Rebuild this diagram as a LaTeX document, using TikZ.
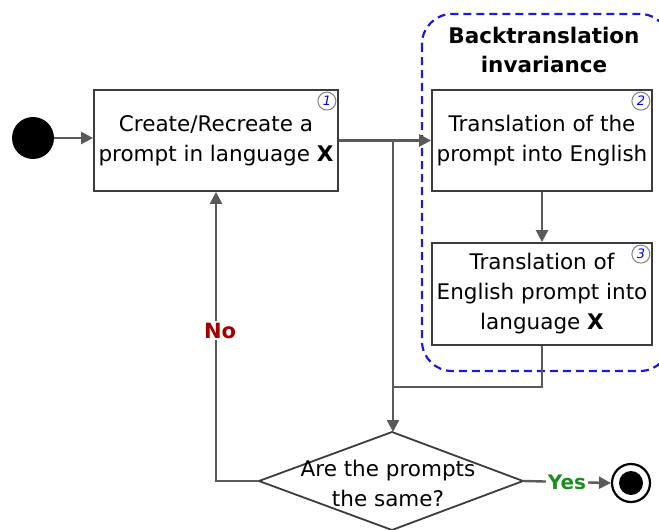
\documentclass[tikz,border=0pt]{standalone}
\usepackage{fontspec}
\setmainfont{DejaVu Sans}
\usetikzlibrary{arrows.meta}

\definecolor{linegray}{HTML}{5A5A5A}
\definecolor{framegray}{HTML}{3C3C3C}
\definecolor{groupblue}{HTML}{1C1CD8}
\definecolor{nored}{HTML}{A00000}
\definecolor{yesgreen}{HTML}{1E8C1E}

\begin{document}
\begin{tikzpicture}[x=1pt,y=-1pt,
  stepbox/.style={draw=framegray, line width=1.8pt, fill=white, align=center,
    inner sep=0pt, font=\fontsize{21.5}{30}\selectfont},
  flow/.style={draw=linegray, line width=2.4pt,
    -{Triangle[length=12pt,width=12pt]}},
  plain/.style={draw=linegray, line width=2.4pt},
  badge/.style={circle, draw=black!50, line width=1pt, fill=white,
    inner sep=0pt, minimum size=18pt, text=blue,
    font=\fontsize{13}{13}\selectfont\itshape},
  edgetext/.style={fill=white, inner sep=2pt}
]
\useasboundingbox (0,0) rectangle (659,530);

% dashed group around the backtranslation steps
\begin{scope}
  \clip (0,0) rectangle (659,530);
  \draw[groupblue, line width=2.2pt, dash pattern=on 8pt off 5pt,
        rounded corners=30pt] (422,14) rectangle (670,371);
\end{scope}
\node[font=\bfseries\fontsize{21.5}{29}\selectfont, align=center] (title)
  at (544,50) {Backtranslation\\invariance};

% start and end
\node[circle, fill=black, minimum size=42pt, inner sep=0pt] (start) at (33,138) {};
\node[circle, draw=black, line width=2.2pt, minimum size=38pt, inner sep=0pt] (end) at (631,483) {};
\fill[black] (end.center) circle (12pt);

% steps
\node[stepbox, minimum width=244pt, minimum height=101pt] (b1) at (216,140.5)
  {Create/Recreate a\\prompt in language \textbf{X}};
\node[stepbox, minimum width=220pt, minimum height=101pt] (b2) at (542,140.5)
  {Translation of the\\prompt into English};
\node[stepbox, minimum width=220pt, minimum height=102pt] (b3) at (542,294)
  {Translation of\\English prompt into\\language \textbf{X}};

\node[badge] (n1) at ([xshift=-12pt,yshift=-12pt]b1.north east) {1};
\node[badge] (n2) at ([xshift=-12pt,yshift=-12pt]b2.north east) {2};
\node[badge] (n3) at ([xshift=-12pt,yshift=-12pt]b3.north east) {3};

% decision
\coordinate (qt) at (392,432);
\coordinate (ql) at (259,481);
\coordinate (qr) at (523,481);
\coordinate (qb) at (392,530);
\draw[framegray, line width=1.8pt, fill=white] (qt) -- (qr) -- (qb) -- (ql) -- cycle;
\node[align=center, font=\fontsize{21.5}{30}\selectfont, inner sep=0pt] (q) at (388,483)
  {Are the prompts\\the same?};

% connectors
\coordinate (j) at (393,140.5);
\coordinate (m) at (393,387);
\draw[flow] (start.east) -- (start.east -| b1.west);
\draw[flow] (b1.east) -- (b2.west);
\draw[flow] (b2.south) -- (b3.north);
\draw[flow] (j) -- (j |- qt);
\draw[plain] (b3.south) |- (m);
\draw[flow] (ql) -| (b1.south)
  node[edgetext, text=nored, pos=0.76, xshift=4pt,
       font=\bfseries\fontsize{21}{21}\selectfont] {No};
\draw[flow] (qr) -- (end.west)
  node[edgetext, text=yesgreen, midway,
       font=\bfseries\fontsize{20}{20}\selectfont] {Yes};
\end{tikzpicture}
\end{document}
